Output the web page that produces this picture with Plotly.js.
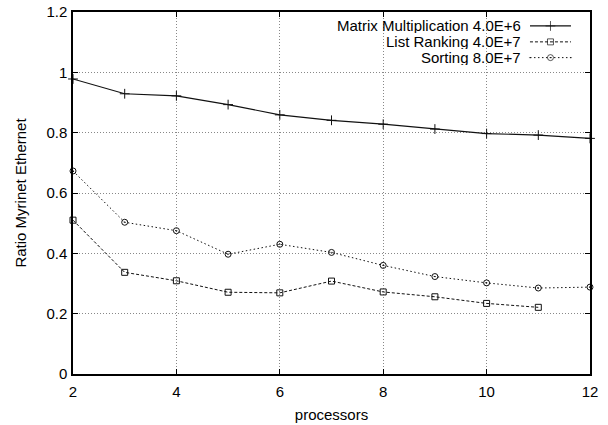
<!DOCTYPE html>
<html>
<head>
<meta charset="utf-8">
<script src="https://cdn.plot.ly/plotly-3.0.1.min.js"></script>
<style>html,body{margin:0;padding:0;background:#fff;}#chart{width:608px;height:425px;}</style>
</head>
<body>
<div id="chart"></div>
<script>
// ---- data ----
const processors = [2, 3, 4, 5, 6, 7, 8, 9, 10, 11, 12];
const processorsListRanking = [2, 3, 4, 5, 6, 7, 8, 9, 10, 11];
const matrixMultiplication = [0.978, 0.929, 0.922, 0.893, 0.859, 0.841, 0.828, 0.812, 0.797, 0.792, 0.781];
const listRanking = [0.510, 0.337, 0.309, 0.271, 0.269, 0.308, 0.272, 0.256, 0.234, 0.221];
const sorting = [0.673, 0.503, 0.475, 0.397, 0.430, 0.403, 0.360, 0.323, 0.302, 0.285, 0.288];
const seriesNames = ["Matrix Multiplication 4.0E+6", "List Ranking 4.0E+7", "Sorting 8.0E+7"];
const xTicks = [2, 4, 6, 8, 10, 12];
const yTicks = [0, 0.2, 0.4, 0.6, 0.8, 1, 1.2];

const FONT = '"Liberation Sans", Arial, Helvetica, sans-serif';
const FS = 15;
const styles = [
  {dash: 'solid', symbol: 'cross-thin-open', size: 7, width: 1.2},
  {dash: '3px,2px', symbol: 'square-open', size: 6, width: 1},
  {dash: '1.5px,2.5px', symbol: 'circle-open-dot', size: 6, width: 1}
];
const xs = [processors, processorsListRanking, processors];
const ys = [matrixMultiplication, listRanking, sorting];

const traces = ys.map((y, i) => ({
  x: xs[i], y: y, type: 'scatter', mode: 'lines+markers', name: seriesNames[i],
  showlegend: false, cliponaxis: false,
  line: {color: '#111', width: styles[i].width, dash: styles[i].dash},
  marker: {symbol: styles[i].symbol, size: styles[i].size, color: '#111',
           line: {color: '#111', width: 1}}
}));

// custom gnuplot-style legend: text right-aligned, then line sample
const rowsY = [0.9615, 0.9175, 0.874];
const sampleX0 = 0.8839, sampleX1 = 0.9632;
const annotations = [];
seriesNames.forEach((name, i) => {
  annotations.push({xref: 'paper', yref: 'paper', x: 0.8695, y: rowsY[i], xanchor: 'right', yanchor: 'middle',
    text: name, showarrow: false, height: 15, font: {family: FONT, size: FS, color: '#000'}});
  traces.push({
    x: [sampleX0, (sampleX0 + sampleX1) / 2, sampleX1], y: [rowsY[i], rowsY[i], rowsY[i]],
    xaxis: 'x2', yaxis: 'y2', type: 'scatter', mode: 'lines+markers', showlegend: false, hoverinfo: 'skip',
    line: {color: '#111', width: styles[i].width, dash: styles[i].dash},
    marker: {symbol: styles[i].symbol, size: [0, styles[i].size, 0], color: '#111', line: {color: '#111', width: 1}}
  });
});

const axisCommon = {
  showline: true, mirror: 'ticks', linecolor: '#000', linewidth: 1.6,
  ticks: 'inside', ticklen: 5, tickcolor: '#000', tickwidth: 1,
  showgrid: true, gridcolor: '#888', griddash: '1px,2px', gridwidth: 1,
  zeroline: false, tickfont: {family: FONT, size: FS, color: '#000'}
};

const layout = {
  width: 608, height: 425,
  margin: {l: 73, r: 18, t: 11.5, b: 50.5},
  paper_bgcolor: '#fff', plot_bgcolor: '#fff',
  font: {family: FONT, size: FS, color: '#000'},
  xaxis: Object.assign({}, axisCommon, {
    range: [2, 12], tickvals: xTicks, ticktext: xTicks.map(String), ticklabelstandoff: 3,
    title: {text: 'processors', font: {family: FONT, size: FS, color: '#000'}, standoff: 11}
  }),
  yaxis: Object.assign({}, axisCommon, {
    range: [0, 1.2], tickvals: yTicks, ticktext: yTicks.map(String), ticklabelstandoff: 1,
    title: {text: 'Ratio Myrinet Ethernet', font: {family: FONT, size: FS, color: '#000'}, standoff: 16}
  }),
  xaxis2: {overlaying: 'x', range: [0, 1], visible: false, fixedrange: true},
  yaxis2: {overlaying: 'y', range: [0, 1], visible: false, fixedrange: true},
  annotations: annotations,
  showlegend: false
};

Plotly.newPlot('chart', traces, layout, {staticPlot: true, displayModeBar: false});
</script>
</body>
</html>
